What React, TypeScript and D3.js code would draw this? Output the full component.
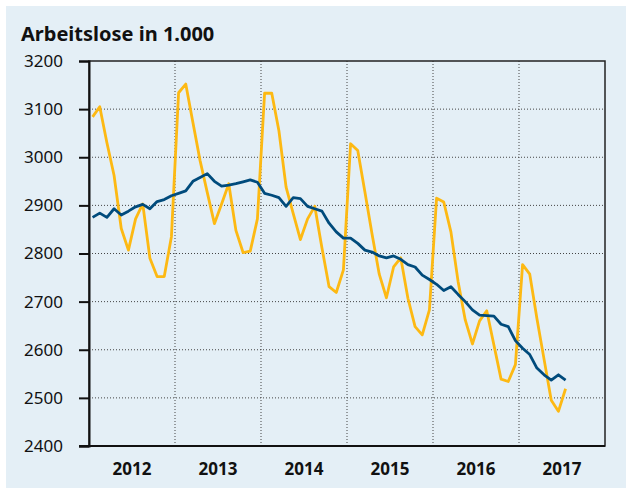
import React, { useRef, useEffect } from 'react';
import * as d3 from 'd3';

// Arbeitslose (in 1.000), monthly Jan 2012 - Jul 2017
const years = ['2012', '2013', '2014', '2015', '2016', '2017'];
const yTicks = [2400, 2500, 2600, 2700, 2800, 2900, 3000, 3100, 3200];

// not seasonally adjusted (yellow)
const unadjusted = [
  3084, 3105, 3030, 2962, 2852, 2807, 2872, 2903, 2790, 2752, 2752, 2835,
  3134, 3152, 3072, 2993, 2927, 2862, 2903, 2945, 2848, 2802, 2805, 2872,
  3133, 3133, 3055, 2938, 2883, 2829, 2872, 2898, 2812, 2731, 2719, 2766,
  3028, 3014, 2928, 2840, 2757, 2708, 2772, 2791, 2707, 2648, 2631, 2683,
  2915, 2907, 2845, 2742, 2662, 2612, 2660, 2681, 2610, 2539, 2534, 2569,
  2777, 2757, 2665, 2580, 2495, 2472, 2519,
];

// seasonally adjusted (blue)
const adjusted = [
  2875, 2884, 2875, 2893, 2880, 2888, 2897, 2902, 2893, 2908, 2912, 2920,
  2925, 2930, 2950, 2958, 2966, 2950, 2940, 2942, 2945, 2949, 2953, 2948,
  2925, 2921, 2916, 2898, 2916, 2914, 2898, 2893, 2888, 2863, 2845, 2832,
  2832, 2821, 2807, 2803, 2795, 2791, 2795, 2788, 2777, 2772, 2755, 2746,
  2736, 2723, 2731, 2715, 2700, 2683, 2672, 2671, 2670, 2653, 2648, 2619,
  2603, 2590, 2562, 2548, 2537, 2548, 2537,
];

function App() {
  const svgRef = useRef(null);

  useEffect(() => {
    const svg = d3.select(svgRef.current);
    svg.selectAll('*').remove();

    const width = 626;
    const height = 488;
    const margin = { top: 61, right: 21, bottom: 42, left: 89 };
    const font = '"Noto Sans", "Open Sans", sans-serif';

    svg.append('rect').attr('width', width).attr('height', height).attr('fill', '#fff');
    svg.append('rect')
      .attr('x', 6).attr('y', 6)
      .attr('width', width - 6).attr('height', height - 6)
      .attr('fill', '#e4eff6');

    const x = d3.scaleLinear()
      .domain([0, years.length * 12])
      .range([margin.left, width - margin.right]);
    const y = d3.scaleLinear()
      .domain([2400, 3200])
      .range([height - margin.bottom, margin.top]);

    // title
    svg.append('text')
      .attr('x', 21).attr('y', 41)
      .attr('font-family', font)
      .attr('font-size', 20)
      .attr('font-weight', 'bold')
      .attr('fill', '#111')
      .text('Arbeitslose in 1.000');

    // horizontal grid
    svg.append('g')
      .selectAll('line')
      .data(yTicks.slice(1, -1))
      .enter()
      .append('line')
      .attr('x1', x(0)).attr('x2', x(72))
      .attr('y1', d => y(d)).attr('y2', d => y(d))
      .attr('stroke', '#444')
      .attr('stroke-width', 1)
      .attr('stroke-dasharray', '1,2');

    // vertical grid at year boundaries
    svg.append('g')
      .selectAll('line')
      .data(d3.range(1, years.length))
      .enter()
      .append('line')
      .attr('x1', d => x(d * 12)).attr('x2', d => x(d * 12))
      .attr('y1', y(3200)).attr('y2', y(2400))
      .attr('stroke', '#444')
      .attr('stroke-width', 1)
      .attr('stroke-dasharray', '1,2');

    // frame
    svg.append('rect')
      .attr('x', x(0)).attr('y', y(3200))
      .attr('width', x(72) - x(0)).attr('height', y(2400) - y(3200))
      .attr('fill', 'none')
      .attr('stroke', '#222')
      .attr('stroke-width', 1.5);

    // y axis
    const yAxis = svg.append('g')
      .attr('transform', `translate(${x(0)},0)`)
      .call(d3.axisLeft(y).tickValues(yTicks).tickSize(10).tickPadding(16).tickFormat(d3.format('d')));
    yAxis.select('.domain').attr('stroke', '#111').attr('stroke-width', 2);
    yAxis.selectAll('.tick line').attr('stroke', '#111').attr('stroke-width', 2);
    yAxis.selectAll('.tick text')
      .attr('font-family', font)
      .attr('font-size', 17)
      .attr('fill', '#111');

    // bottom line + year labels
    svg.append('line')
      .attr('x1', x(0) - 10).attr('x2', x(72))
      .attr('y1', y(2400)).attr('y2', y(2400))
      .attr('stroke', '#111').attr('stroke-width', 2);
    svg.append('g')
      .selectAll('text')
      .data(years)
      .enter()
      .append('text')
      .attr('x', (d, i) => x(i * 12 + 6))
      .attr('y', 475)
      .attr('text-anchor', 'middle')
      .attr('font-family', font)
      .attr('font-size', 17)
      .attr('font-weight', 'bold')
      .attr('fill', '#111')
      .text(d => d);

    const line = d3.line()
      .x((d, i) => x(i + 0.5))
      .y(d => y(d));

    svg.append('path')
      .datum(unadjusted)
      .attr('d', line)
      .attr('fill', 'none')
      .attr('stroke', '#fdb913')
      .attr('stroke-width', 2.8)
      .attr('stroke-linejoin', 'round');

    svg.append('path')
      .datum(adjusted)
      .attr('d', line)
      .attr('fill', 'none')
      .attr('stroke', '#004b7c')
      .attr('stroke-width', 2.8)
      .attr('stroke-linejoin', 'round');
  }, []);

  return (
    <svg
      ref={svgRef}
      width={626}
      height={488}
      style={{ position: 'absolute', left: 0, top: 0, display: 'block' }}
    />
  );
}

export default App;
